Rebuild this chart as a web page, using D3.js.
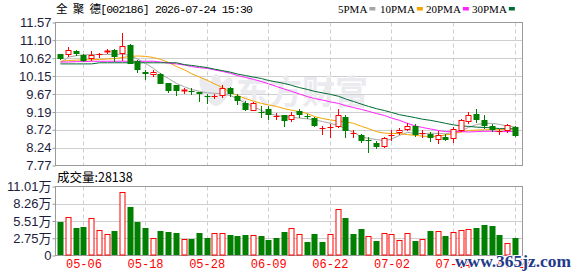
<!DOCTYPE html>
<html><head><meta charset="utf-8">
<script src="https://cdn.jsdelivr.net/npm/d3@7"></script>
<style>body{margin:0;background:#fff}svg{display:block}</style>
</head><body>
<svg id="c" width="578" height="276"></svg>
<script>
const dates=["04-28","04-29","04-30","05-06","05-07","05-08","05-11","05-12","05-13","05-14",
"05-15","05-18","05-19","05-20","05-21","05-22","05-25","05-26","05-27","05-28",
"05-29","06-01","06-02","06-03","06-04","06-05","06-08","06-09","06-10","06-11",
"06-12","06-15","06-16","06-17","06-18","06-22","06-23","06-24","06-25","06-26",
"06-29","06-30","07-01","07-02","07-03","07-06","07-07","07-08","07-09","07-10",
"07-13","07-14","07-15","07-16","07-17","07-20","07-21","07-22","07-23","07-24"];
const open=[10.72,10.70,10.80,10.71,10.59,10.73,10.77,10.85,10.72,10.97,
10.56,10.26,10.17,10.21,9.96,9.90,9.71,9.74,9.72,9.61,
9.60,9.61,9.83,9.63,9.43,9.23,9.19,9.28,9.06,9.10,
8.97,9.23,9.08,9.04,8.75,8.76,8.79,9.07,8.62,8.59,
8.44,8.38,8.26,8.56,8.63,8.72,8.83,8.61,8.61,8.45,
8.54,8.48,8.70,8.92,9.13,8.97,8.83,8.66,8.70,8.79];
const high=[10.74,10.91,10.85,10.73,10.80,10.75,10.86,10.87,11.28,11.00,
10.57,10.31,10.31,10.23,9.97,9.91,9.82,9.82,9.73,9.67,
9.66,9.90,9.85,9.66,9.48,9.47,9.36,9.36,9.16,9.12,
9.19,9.27,9.14,9.07,8.83,8.88,9.28,9.10,8.72,8.60,
8.54,8.43,8.54,8.72,8.77,8.91,8.86,8.72,8.66,8.70,
8.61,8.79,9.01,9.19,9.26,9.10,8.88,8.73,8.88,8.83];
const low=[10.58,10.65,10.69,10.52,10.54,10.62,10.74,10.53,10.54,10.46,
10.22,10.05,10.13,9.93,9.70,9.62,9.67,9.65,9.47,9.41,
9.54,9.56,9.59,9.39,9.21,9.21,9.04,8.98,8.97,8.79,
8.92,9.04,9.01,8.79,8.59,8.50,8.77,8.50,8.51,8.36,
8.11,8.21,8.24,8.43,8.59,8.70,8.54,8.51,8.39,8.35,
8.41,8.36,8.66,8.88,8.90,8.75,8.67,8.57,8.63,8.52];
const close=[10.61,10.84,10.72,10.54,10.71,10.74,10.82,10.65,10.94,10.47,
10.31,10.21,10.25,9.94,9.76,9.75,9.77,9.72,9.66,9.60,
9.62,9.83,9.67,9.48,9.25,9.43,9.17,9.12,9.08,8.95,
9.12,9.12,9.07,8.83,8.77,8.78,9.10,8.70,8.64,8.42,
8.43,8.27,8.51,8.58,8.72,8.83,8.57,8.63,8.51,8.59,
8.44,8.75,8.97,9.12,8.97,8.83,8.72,8.70,8.85,8.55];
const volume=[5.40,6.14,4.43,4.59,5.98,4.06,3.42,3.95,10.15,7.80,
5.40,4.43,2.78,3.95,3.79,3.52,2.62,2.67,3.52,2.83,
3.63,3.63,3.31,3.15,3.31,3.26,3.15,2.40,2.83,3.79,
4.38,3.47,2.19,3.47,2.19,3.42,7.43,6.04,3.47,4.27,
3.15,2.35,3.58,3.42,2.46,3.58,2.35,2.62,3.95,3.90,
3.15,3.74,4.06,4.22,4.43,4.91,4.75,3.26,2.03,2.81];
const ma5=[10.50,10.65,10.69,10.71,10.72,10.72,10.72,10.72,10.73,10.69,
10.60,10.48,10.35,10.21,10.08,9.95,9.86,9.79,9.74,9.70,
9.69,9.67,9.63,9.54,9.43,9.33,9.23,9.15,9.10,9.07,
9.05,9.03,9.01,8.98,8.94,8.89,8.83,8.74,8.65,8.53,
8.49,8.46,8.43,8.47,8.57,8.65,8.62,8.61,8.63,8.62,
8.61,8.65,8.70,8.78,8.86,8.89,8.89,8.86,8.82,8.79];
const ma10=[10.54,10.56,10.57,10.58,10.58,10.59,10.60,10.61,10.64,10.67,
10.68,10.67,10.64,10.59,10.51,10.40,10.31,10.21,10.12,10.03,
9.94,9.84,9.71,9.63,9.55,9.48,9.42,9.38,9.34,9.28,
9.24,9.20,9.15,9.07,9.02,8.98,8.95,8.93,8.89,8.81,
8.75,8.67,8.63,8.62,8.62,8.59,8.57,8.55,8.54,8.55,
8.58,8.62,8.66,8.70,8.71,8.72,8.72,8.72,8.73,8.75];
const ma20=[10.52,10.52,10.53,10.53,10.54,10.54,10.54,10.54,10.54,10.54,
10.54,10.54,10.54,10.52,10.49,10.47,10.44,10.40,10.37,10.35,
10.31,10.27,10.22,10.16,10.11,10.06,10.00,9.94,9.87,9.80,
9.74,9.67,9.60,9.55,9.51,9.46,9.42,9.36,9.31,9.26,
9.21,9.15,9.10,9.03,8.97,8.89,8.82,8.78,8.74,8.70,
8.67,8.67,8.67,8.66,8.67,8.68,8.68,8.67,8.67,8.68];
const ma30=[10.47,10.47,10.47,10.47,10.47,10.50,10.50,10.50,10.50,10.50,
10.50,10.50,10.50,10.50,10.50,10.50,10.45,10.43,10.40,10.37,
10.33,10.29,10.25,10.20,10.16,10.12,10.08,10.03,9.99,9.95,
9.90,9.84,9.79,9.74,9.70,9.66,9.61,9.54,9.47,9.40,
9.34,9.28,9.23,9.18,9.12,9.08,9.04,9.00,8.97,8.93,
8.89,8.85,8.82,8.81,8.79,8.78,8.77,8.75,8.75,8.74];
const priceTicks=[11.57,11.10,10.62,10.15,9.67,9.19,8.72,8.24,7.77];
const volTicks=[0,2.75,5.51,8.26,11.01];
const dateTicks=["05-06","05-18","05-28","06-09","06-22","07-02","07-14","07-24"];
const maNames=["5PMA","10PMA","20PMA","30PMA"];
const maColors=["#a6a6a6","#f5a500","#ff22ff","#006b33"];
const maSeries=[ma5,ma10,ma20,ma30];
const stockName="全 聚 德[002186] 2026-07-24 15:30";
const volLabel="成交量:28138";

const RED="#ff0000", GREEN="#007f00";
const svg=d3.select("#c");
const L=55.5,R=522.5,T=22.5,B=165.5,VT=186.5,VB=255.5;
const x=d3.scaleBand().domain(dates).range([56.5,518.5]).padding(0);
const cx=d=>Math.round(x(d)+x.bandwidth()/2)+0.5;
const y=d3.scaleLinear().domain([7.77,11.57]).range([B,T]);
const yv=d3.scaleLinear().domain([0,11.01]).range([VB,VT]);
const axisFont='"Liberation Sans",Arial,"Noto Sans CJK SC",sans-serif';

// grids
const g=svg.append("g");
g.selectAll("line.hp").data(priceTicks.slice(1,-1)).join("line")
 .attr("x1",L).attr("x2",R).attr("y1",d=>Math.round(y(d))+0.5).attr("y2",d=>Math.round(y(d))+0.5)
 .attr("stroke","#cfcfcf");
g.selectAll("line.hv").data(volTicks.slice(1,-1)).join("line")
 .attr("x1",L).attr("x2",R).attr("y1",d=>Math.round(yv(d))+0.5).attr("y2",d=>Math.round(yv(d))+0.5)
 .attr("stroke","#cfcfcf");
[[T,B],[VT,VB]].forEach(([a,b])=>{
 g.append("g").selectAll("line").data(dateTicks).join("line")
  .attr("x1",d=>cx(d)).attr("x2",d=>cx(d)).attr("y1",a).attr("y2",b)
  .attr("stroke","#cfcfcf").attr("stroke-dasharray","4,3");
});

// watermark
const wm=svg.append("g").attr("fill","#eaeaef");
[[-30],[0],[30]].forEach(([r])=>{
 wm.append("ellipse").attr("cx",0).attr("cy",-14).attr("rx",6).attr("ry",16)
  .attr("transform",`translate(216,104) rotate(${r})`);
});
wm.append("text").attr("x",236).attr("y",104).attr("font-size",33).attr("font-weight","bold")
 .attr("font-family",'"Noto Sans CJK SC",sans-serif').text("东方财富");

// frames
svg.append("rect").attr("x",L).attr("y",T).attr("width",R-L).attr("height",B-T).attr("fill","none").attr("stroke","#9a9a9a");
svg.append("rect").attr("x",L).attr("y",VT).attr("width",R-L).attr("height",VB-VT).attr("fill","none").attr("stroke","#9a9a9a");

// axes
const ya=svg.append("g").attr("transform",`translate(${L},0)`)
 .call(d3.axisLeft(y).tickValues(priceTicks).tickFormat(d3.format(".2f")).tickSize(3).tickPadding(1));
const yva=svg.append("g").attr("transform",`translate(${L},0)`)
 .call(d3.axisLeft(yv).tickValues(volTicks).tickFormat(d=>d===0?"0":d3.format(".2f")(d)+"万").tickSize(3).tickPadding(1));
[ya,yva].forEach(a=>{a.select(".domain").remove();
 a.selectAll("line").attr("stroke","#9a9a9a");
 a.selectAll("text").attr("font-size",13).attr("font-family",axisFont).attr("fill","#1c1c3c");});
const xa=svg.append("g").attr("transform",`translate(0,${VB})`)
 .call(d3.axisBottom(x).tickValues(dateTicks).tickSize(0).tickPadding(4));
xa.select(".domain").remove();
xa.selectAll("text").attr("font-size",12).attr("font-family",'"Liberation Mono",monospace').attr("fill",RED)
 .attr("dy","0.72em").attr("transform","translate(0.5,0)");

// MA lines
maSeries.forEach((s,k)=>{
 svg.append("path").datum(s).attr("fill","none").attr("stroke",maColors[k]).attr("stroke-width",1)
  .attr("d",d3.line().x((d,i)=>cx(dates[i])).y(d=>y(d)));
});

// candles
const bw=5;
const cg=svg.append("g");
dates.forEach((d,i)=>{
 const up=close[i]>=open[i];
 const col=up?RED:GREEN;
 const X=cx(d);
 cg.append("line").attr("x1",X).attr("x2",X).attr("y1",Math.round(y(high[i]))).attr("y2",Math.round(y(low[i])))
  .attr("stroke",col);
 const t=Math.round(y(Math.max(open[i],close[i]))), b=Math.round(y(Math.min(open[i],close[i])));
 const h=Math.max(b-t,1);
 if(up){
  if(h<=2){cg.append("line").attr("x1",X-3).attr("x2",X+3).attr("y1",t+0.5).attr("y2",t+0.5).attr("stroke",col).attr("stroke-width",Math.max(h,1));}
  else cg.append("rect").attr("x",X-2.5).attr("y",t+0.5).attr("width",bw).attr("height",h-1).attr("fill","#fff").attr("stroke",col);
 } else {
  cg.append("rect").attr("x",X-3).attr("y",t).attr("width",bw+1).attr("height",Math.max(h,1)).attr("fill",col);
 }
});

// volume bars
const vg=svg.append("g");
dates.forEach((d,i)=>{
 const up= i===0 ? close[i]>=open[i] : close[i]>=close[i-1];
 const X=cx(d), t=Math.round(yv(volume[i]));
 if(up) vg.append("rect").attr("x",X-2.5).attr("y",t+0.5).attr("width",bw).attr("height",VB-0.5-t-0.5).attr("fill","#fff").attr("stroke",RED);
 else vg.append("rect").attr("x",X-3).attr("y",t).attr("width",bw+1).attr("height",VB-0.5-t).attr("fill",GREEN);
});

// title, legend
svg.append("text").attr("x",56).attr("y",13).attr("font-size",11.5)
 .attr("font-family",'"Liberation Mono","Noto Sans CJK SC",monospace').attr("fill","#000")
 .attr("textLength",197).attr("lengthAdjust","spacing").text(stockName);
const legX=[338,380,426,472];
maNames.forEach((n,k)=>{
 const tx=svg.append("text").attr("x",legX[k]).attr("y",12.5).attr("font-size",11)
  .attr("font-family",'"Liberation Serif",serif').attr("fill","#000").text(n);
 const w=tx.node().getComputedTextLength();
 svg.append("rect").attr("x",legX[k]+w+2).attr("y",7).attr("width",6).attr("height",3.5).attr("fill",maColors[k]);
});
svg.append("text").attr("x",57).attr("y",181.5).attr("font-size",12.5)
 .attr("font-family",'"Noto Sans CJK SC","Liberation Sans",sans-serif').attr("fill","#000").text(volLabel);

// site watermark
svg.append("text").attr("x",455).attr("y",267).attr("font-size",17).attr("font-weight","bold")
 .attr("font-family",'"Liberation Serif",serif').attr("fill","#1f3b8a")
 .attr("stroke","#fff").attr("stroke-width",2).attr("paint-order","stroke")
 .attr("textLength",116).attr("lengthAdjust","spacingAndGlyphs").text("www.365jz.com");
</script>
</body></html>
